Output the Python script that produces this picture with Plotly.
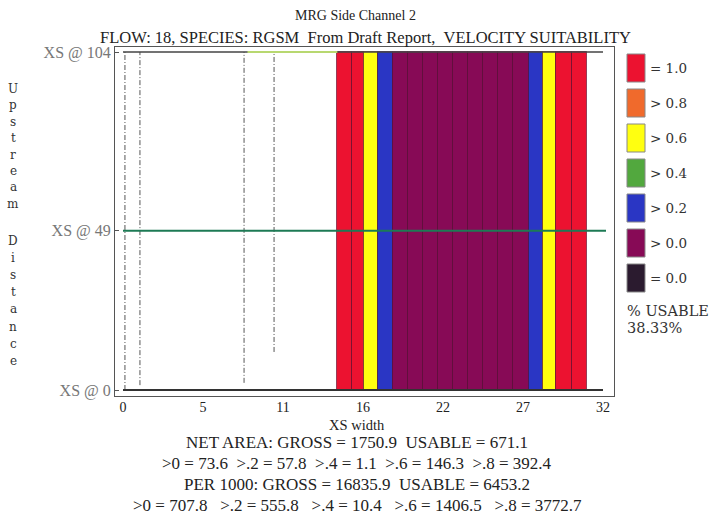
import plotly.graph_objects as go

# ---- habitat cells across the section (XS width units) ----
cell_left = [14.29, 15.24, 16.07, 17.02, 17.98, 19.02, 20.02, 21.02, 22.02,
             23.02, 24.02, 25.02, 26.02, 27.09, 27.98, 28.87, 29.91]
cell_right = [15.24, 16.07, 17.02, 17.98, 19.02, 20.02, 21.02, 22.02, 23.02,
              24.02, 25.02, 26.02, 27.09, 27.98, 28.87, 29.91, 30.95]
cell_class = ["= 1.0", "= 1.0", "> 0.6", "> 0.2", "> 0.0", "> 0.0", "> 0.0",
              "> 0.0", "> 0.0", "> 0.0", "> 0.0", "> 0.0", "> 0.0", "> 0.2",
              "> 0.6", "= 1.0", "= 1.0"]
cell_bottom = 0
cell_top = 104

# suitability classes
class_labels = ["= 1.0", "> 0.8", "> 0.6", "> 0.4", "> 0.2", "> 0.0", "= 0.0"]
class_colors = ["#ec1230", "#f06a2c", "#ffff10", "#52a83e", "#2a36c4", "#870a56", "#2b1b2f"]

# cross sections (upstream distance)
xs_names = ["XS @ 0", "XS @ 49", "XS @ 104"]
xs_dist = [0, 49, 104]

# vertical survey lines: x position, lower end, upper end
survey_x = [0.13, 1.13, 8.07, 10.07]
survey_y0 = [0.0, 1.5, 2.2, 11.7]
survey_y1 = [104, 104, 104, 104]

# x tick labels
x_tick_text = ["0", "5", "11", "16", "22", "27", "32"]
x_max = 32

usable_pct = "38.33%"
NB = "\u00a0"
summary_lines = [
    "NET AREA: GROSS = 1750.9" + NB * 2 + "USABLE = 671.1",
    (NB * 2).join([">0 = 73.6", ">.2 = 57.8", ">.4 = 1.1", ">.6 = 146.3", ">.8 = 392.4"]),
    "PER 1000: GROSS = 16835.9" + NB * 2 + "USABLE = 6453.2",
    (NB * 3).join([">0 = 707.8", ">.2 = 555.8", ">.4 = 10.4", ">.6 = 1406.5", ">.8 = 3772.7"]),
]

# ---- layout geometry (pixels) ----
W, H = 710, 516
L, R, T, B = 115, 614, 47, 396


def px(x):
    return (x - L) / (R - L)


def py(y):
    return (B - y) / (B - T)


SERIF = "Liberation Serif, Times New Roman, serif"
BOOK = "DejaVu Serif, serif"

color_of = dict(zip(class_labels, class_colors))

fig = go.Figure()

# habitat cells as bars
fig.add_trace(go.Bar(
    x=[(a + b) / 2 for a, b in zip(cell_left, cell_right)],
    y=[cell_top - cell_bottom] * len(cell_left),
    base=[cell_bottom] * len(cell_left),
    width=[b - a for a, b in zip(cell_left, cell_right)],
    marker=dict(color=[color_of[c] for c in cell_class],
                line=dict(color="rgba(70,0,35,0.55)", width=1)),
    showlegend=False, hoverinfo="skip",
))

# survey lines
for sx, y0, y1 in zip(survey_x, survey_y0, survey_y1):
    fig.add_trace(go.Scatter(
        x=[sx, sx], y=[y0, y1], mode="lines",
        line=dict(color="#555555", width=1, dash="5px,2px,1px,2px"),
        showlegend=False, hoverinfo="skip",
    ))

# cross-section lines
fig.add_trace(go.Scatter(x=[0, x_max], y=[xs_dist[0]] * 2, mode="lines",
                         line=dict(color="#333333", width=2),
                         showlegend=False, hoverinfo="skip"))
fig.add_trace(go.Scatter(x=[0, x_max], y=[xs_dist[2]] * 2, mode="lines",
                         line=dict(color="#444444", width=1.5),
                         showlegend=False, hoverinfo="skip"))
fig.add_trace(go.Scatter(x=[8.3, cell_left[0]], y=[xs_dist[2]] * 2, mode="lines",
                         line=dict(color="#b8d870", width=2),
                         showlegend=False, hoverinfo="skip"))
fig.add_trace(go.Scatter(x=[0, x_max + 0.2], y=[xs_dist[1]] * 2, mode="lines",
                         line=dict(color="#1d7a55", width=2),
                         showlegend=False, hoverinfo="skip"))

ann = []
shapes = []


def text_at(s, x, y, size, family=SERIF, color="#222", xanchor="center"):
    ann.append(dict(text=s, x=px(x), y=py(y), xref="paper", yref="paper",
                    xanchor=xanchor, yanchor="middle", showarrow=False,
                    font=dict(family=family, size=size, color=color)))


# titles
text_at("MRG Side Channel 2", 355, 16, 14)
text_at("FLOW: 18, SPECIES: RGSM" + NB * 2 + "From Draft Report," + NB * 2 + "VELOCITY SUITABILITY",
        365, 37, 16.5)

# vertical y-axis title, one letter per line
for i, ch in enumerate("Upstream"):
    text_at(ch, 13, 89 + 16.4 * i, 12, BOOK, "#333")
for i, ch in enumerate("Distance"):
    text_at(ch, 13, 241 + 17.1 * i, 12, BOOK, "#333")

# x-axis title and summary
text_at("XS width", 357, 425, 14.5)
for i, line in enumerate(summary_lines):
    text_at(line, 357, 442 + 21.3 * i, 17)

# class key
for i, (lab, col) in enumerate(zip(class_labels, class_colors)):
    top = 54 + 35 * i
    shapes.append(dict(type="rect", xref="paper", yref="paper",
                       x0=px(627), x1=px(645), y0=py(top + 28), y1=py(top),
                       fillcolor=col, line=dict(color="#888888", width=1)))
    text_at(lab, 648, top + 14, 13.5, BOOK, "#333", "left")
text_at("% USABLE", 625, 311, 14.5, BOOK, "#333", "left")
text_at(usable_pct, 625, 328, 14.5, BOOK, "#333", "left")

y_lo = -(B - 390) / 3.25
y_hi = 104 + (52 - T) / 3.25
x_lo = (L - 123) / 15
x_hi = (R - 123) / 15

fig.update_layout(
    width=W, height=H,
    margin=dict(l=L, r=W - R, t=T, b=H - B),
    paper_bgcolor="white", plot_bgcolor="white",
    barmode="overlay", bargap=0,
    annotations=ann, shapes=shapes,
    xaxis=dict(range=[x_lo, x_hi], showgrid=False, zeroline=False,
               tickvals=[x_max * k / 6 for k in range(7)], ticktext=x_tick_text,
               ticks="", showline=True, mirror=True, linecolor="#555", linewidth=1,
               ticklabelstandoff=-2,
               tickfont=dict(family=SERIF, size=14, color="#222")),
    yaxis=dict(range=[y_lo, y_hi], showgrid=False, zeroline=False,
               tickvals=xs_dist, ticktext=xs_names,
               ticks="inside", ticklen=4, tickcolor="#555",
               showline=True, mirror=True, linecolor="#555", linewidth=1,
               tickfont=dict(family=SERIF, size=16, color="#777")),
)

fig.write_html("out.html")
